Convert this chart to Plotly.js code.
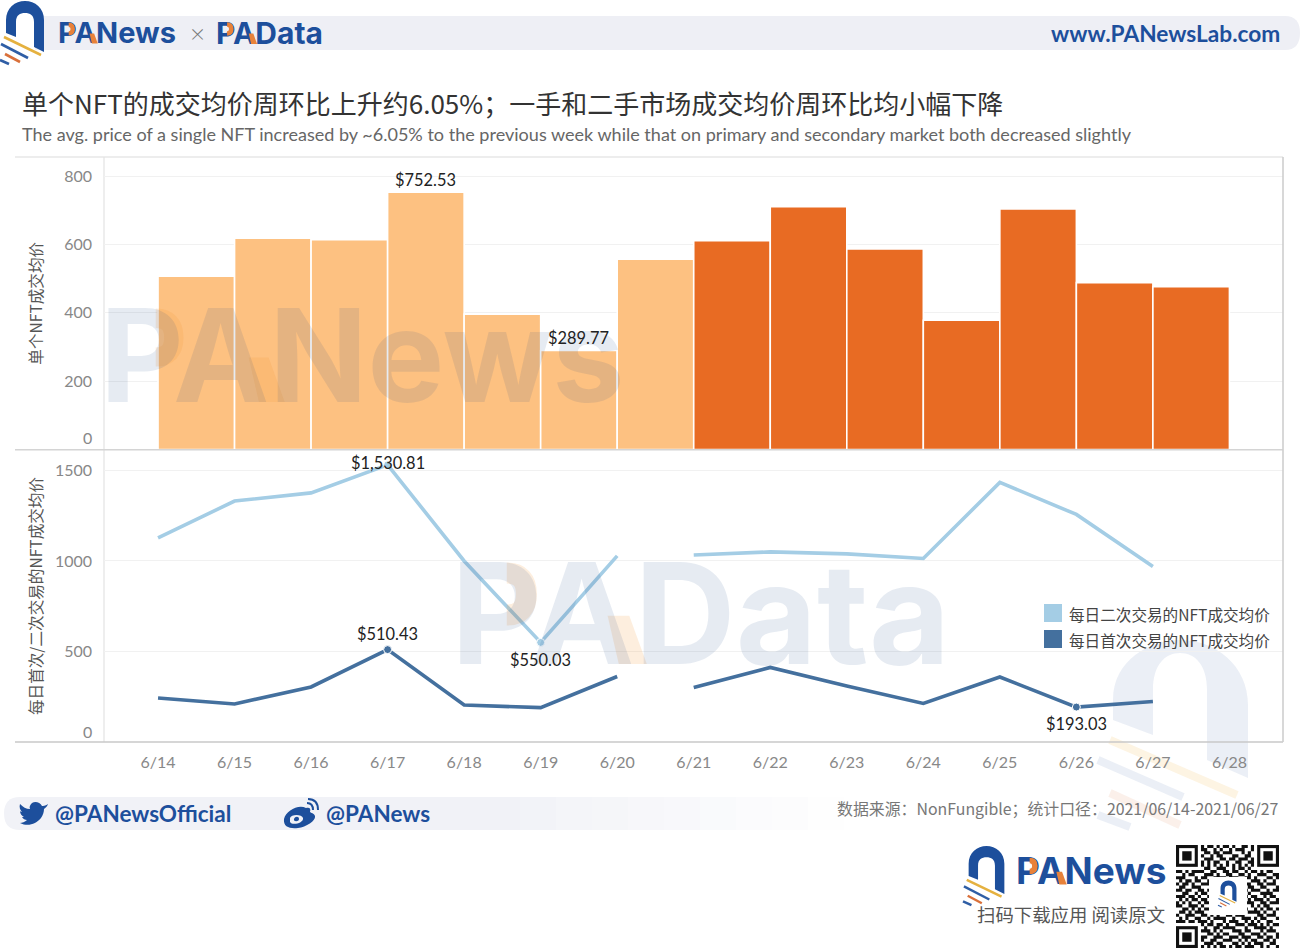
<!DOCTYPE html>
<html>
<head>
<meta charset="utf-8">
<script src="https://cdn.plot.ly/plotly-3.0.1.min.js"></script>
<style>html,body{margin:0;padding:0;background:#fff}#chart{width:1300px;height:952px}</style>
</head>
<body>
<div id="chart"></div>
<script>
// ---------- data ----------
const dates = ["6/14","6/15","6/16","6/17","6/18","6/19","6/20","6/21","6/22","6/23","6/24","6/25","6/26","6/27","6/28"];
const avgPrice = [507,618,614,752.53,396,289.77,557,611,710,587,378,704,488,476];
const secondary = [1127,1331,1376,1530.81,1000,550.03,1028,1033,1050,1039,1014,1434,1257,970];
const primary = [243,210,304,510.43,204,190,362,301,412,309,213,359,193.03,224];
const weekOneCount = 7;
const labelledAvg = [3,5];
const labelledSecondary = [3,5];
const labelledPrimary = [3,12];
const seriesNames = ["每日二次交易的NFT成交均价","每日首次交易的NFT成交均价"];
const qrRows = [
"000000001011010110100110100000000",
"000000001100101001011100100000000",
"000000000110110111000101000000000",
"000000001001011000110011000000000",
"000000000111001101101110100000000",
"000000001010110010011001100000000",
"000000001010101010101010100000000",
"000000000110011100101101000000000",
"110101111001100110110010110101100",
"001011000111010011001101001110011",
"111000101100111101110011010001101",
"010110110011000100101100111010010",
"101101001110101111000111001101110",
"011001110001110000110001100110001",
"110110011010000000001010111001011",
"001100101101000000001101000111100",
"111011010011000000000110110010110",
"010101101100000000001001011101001",
"101010010110000000000011100110111",
"110011101001000000001100101011000",
"001101010111110001110110010101101",
"011010111000101110001001111010010",
"100111001101010011011100001101110",
"010100110010111100100111010110001",
"111011011101000101110010101001100",
"000000001011011010011101110101011",
"000000000100110111100010011110100",
"000000001110101000111011000101110",
"000000000011010110001100111010001",
"000000001100111001110111001101101",
"000000001001100111001010110011010",
"000000000111011000110101011100110",
"000000001010101101011011100101001"];

// ---------- helpers ----------
const W = 1300, H = 952;
const BLUE = "#1d4f9c", LATIN = "Lato, 'Noto Sans CJK SC', sans-serif", CJK = "'Noto Sans CJK SC', Lato, sans-serif", BOLD = "Inter, 'Noto Sans CJK SC', sans-serif";
const px = v => v / W, py = v => 1 - v / H;
function pth(d) { let i = 0; return d.replace(/-?\d+(\.\d+)?/g, n => (i++ % 2 === 0) ? px(+n) : py(+n)); }
function fillShape(d, color, layer) { return {type:"path", xref:"paper", yref:"paper", path:pth(d), fillcolor:color, line:{width:0}, layer:layer||"above"}; }
function curveShape(d, color, w, layer) { return {type:"path", xref:"paper", yref:"paper", path:pth(d), fillcolor:"rgba(0,0,0,0)", line:{color,width:w}, layer:layer||"above"}; }
function strokeShape(x0,y0,x1,y1,color,w,layer) { return {type:"line", xref:"paper", yref:"paper", x0:px(x0), y0:py(y0), x1:px(x1), y1:py(y1), line:{color,width:w}, layer:layer||"above"}; }
function T(text,x,y,size,color,anchor,family,weight) {
  return {text, xref:"paper", yref:"paper", x:px(x), y:py(y), xanchor:anchor||"left", yanchor:"middle", showarrow:false, borderpad:0,
    font:{size, color, family:family||LATIN, weight:weight||400}};
}
function logo(ox, oy, s) {
  const X = v => ox + v * s, Y = v => oy + v * s;
  const d = `M${X(6)} ${Y(33)} L${X(6)} ${Y(20)} C${X(6)} ${Y(8)} ${X(15)} ${Y(1)} ${X(25)} ${Y(1)} C${X(35)} ${Y(1)} ${X(44)} ${Y(8)} ${X(44)} ${Y(20)} L${X(44)} ${Y(52)} L${X(34)} ${Y(47)} L${X(34)} ${Y(22)} C${X(34)} ${Y(15)} ${X(30)} ${Y(13)} ${X(25)} ${Y(13)} C${X(20)} ${Y(13)} ${X(16)} ${Y(15)} ${X(16)} ${Y(22)} L${X(16)} ${Y(37)} Z`;
  return [
    fillShape(d, BLUE),
    strokeShape(X(4),Y(37),X(41),Y(55),"#e5b13f",2.6*s),
    strokeShape(X(1),Y(44),X(28),Y(58),"#2f5ea5",2.6*s),
    strokeShape(X(5),Y(54),X(20),Y(62),"#d9703a",2.6*s),
    strokeShape(X(0),Y(60),X(9),Y(64),"#2f5ea5",2.6*s)
  ];
}
// orange accents on the P bowl and the A leg of a "PA…" word; em = font size, (x,yc) = left edge and cap centre
function paAccent(x, yc, em, color) {
  const X = v => x + v * em, Y = v => yc + v * em;
  return [
    curveShape(`M${X(.37)} ${Y(-.285)} Q${X(.51)} ${Y(-.285)} ${X(.51)} ${Y(-.135)} Q${X(.51)} ${Y(.015)} ${X(.37)} ${Y(.015)}`, color, .15*em),
    fillShape(`M${X(1.09)} ${Y(.02)} L${X(1.245)} ${Y(.02)} L${X(1.37)} ${Y(.364)} L${X(1.17)} ${Y(.364)} Z`, color)
  ];
}
function qrPath() {
  const x0 = 1176, y0 = 845, m = 103/33; let d = "";
  const rect = (c,r,w,h) => { const a=(x0+c*m).toFixed(2),b=(y0+r*m).toFixed(2),e=(x0+(c+w)*m).toFixed(2),f=(y0+(r+h)*m).toFixed(2); d += `M${a} ${b}L${e} ${b}L${e} ${f}L${a} ${f}Z`; };
  qrRows.forEach((row,r)=>{ let c=0; while(c<row.length){ if(row[c]==="1"){ let e=c; while(e<row.length&&row[e]==="1")e++; rect(c,r,e-c,1); c=e; } else c++; } });
  return d;
}
function finder(c,r) {
  const x0 = 1176, y0 = 845, m = 103/33;
  const box = (cc,rr,n,col)=>{const a=x0+cc*m,b=y0+rr*m,e=a+n*m,f=b+n*m; return fillShape(`M${a} ${b}L${e} ${b}L${e} ${f}L${a} ${f}Z`,col);};
  return [box(c,r,7,"#111"),box(c+1,r+1,5,"#fff"),box(c+2,r+2,3,"#111")];
}

// ---------- traces ----------
const barColors = avgPrice.map((_, i) => i < weekOneCount ? "#fdc181" : "#e86b23");
const mk = (idx, n) => Array.from({length:n}, (_, i) => idx.includes(i) ? 8 : 0);
function lineTrace(name, xs, ys, color, sizes) {
  return {type:"scatter", mode:"lines+markers", name, x:xs, y:ys, xaxis:"x", yaxis:"y2", showlegend:false, hoverinfo:"skip",
    line:{color, width:3.6}, marker:{color, size:sizes, opacity:1}};
}
function brandText(text, x, y, size) {
  return {type:"scatter", mode:"text", x:[x], y:[y], text:[text], textposition:"middle right", xaxis:"x3", yaxis:"y3", showlegend:false, hoverinfo:"skip",
    textfont:{size, color:BLUE, family:BOLD, weight:700}};
}
const wk = weekOneCount, xA = dates.slice(0,wk), xB = dates.slice(wk,14);
const traces = [
  {type:"bar", x:dates.slice(0,14), y:avgPrice, offset:0, width:1, xaxis:"x", yaxis:"y", hoverinfo:"skip", showlegend:false,
   marker:{color:barColors, line:{color:"#ffffff", width:1.6}}},
  lineTrace(seriesNames[0], xA, secondary.slice(0,wk), "#a4cde5", mk(labelledSecondary,14).slice(0,wk)),
  lineTrace(seriesNames[0], xB, secondary.slice(wk), "#a4cde5", mk(labelledSecondary,14).slice(wk)),
  lineTrace(seriesNames[1], xA, primary.slice(0,wk), "#44709e", mk(labelledPrimary,14).slice(0,wk)),
  lineTrace(seriesNames[1], xB, primary.slice(wk), "#44709e", mk(labelledPrimary,14).slice(wk)),
  brandText("PANews",58,36,29),
  brandText("PAData",216,36,30),
  brandText("PANews",1016,875,37)
];

// ---------- decoration ----------
const shapes = [];
shapes.push(fillShape("M35 16 L1285 16 Q1300 16 1300 33 Q1300 50 1285 50 L35 50 Z", "#eeeff5", "below"));
shapes.push(fillShape("M20 797 L520 797 L520 830 L20 830 Q4 830 4 813.5 Q4 797 20 797 Z", "#f1f2f7", "below"));
[0.9,0.8,0.7,0.6,0.5,0.4,0.3,0.2,0.1].forEach((o,i)=>{
  const a=520+i*36,b=a+36;
  shapes.push(fillShape(`M${a} 797 L${b} 797 L${b} 830 L${a} 830 Z`,`rgba(241,242,247,${o})`,"below"));
});
// big faint logo, lower right
shapes.push(fillShape("M1113 720 L1113 700 C1113 660 1150 640 1180 640 C1215 640 1248 665 1248 705 L1248 778 L1207 760 L1207 690 C1207 665 1195 653 1180 653 C1165 653 1153 665 1153 690 L1153 735 Z","rgba(29,79,156,0.09)","below"));
shapes.push(strokeShape(1110,740,1237,795,"rgba(240,180,60,0.14)",8,"below"));
shapes.push(strokeShape(1098,760,1183,797,"rgba(29,79,156,0.09)",8,"below"));
shapes.push(strokeShape(1110,793,1180,825,"rgba(220,110,50,0.10)",8,"below"));
shapes.push(strokeShape(1098,815,1130,827,"rgba(29,79,156,0.09)",8,"below"));
// panel frame
shapes.push(strokeShape(15,157,1283,157,"#dcdcdc",1.2,"below"));
shapes.push(strokeShape(15,449.7,1283,449.7,"#d4d4d4",1.4,"above"));
shapes.push(strokeShape(15,742,1283,742,"#c8c8c8",1.6,"above"));
shapes.push(strokeShape(104,157,104,742,"#e3e3e3",1.2,"below"));
shapes.push(strokeShape(1283,157,1283,742,"#cfcfcf",1.6,"above"));
// logos
logo(0,0,1).forEach(s=>shapes.push(s));
logo(963,845,0.94).forEach(s=>shapes.push(s));
// social icons
shapes.push(fillShape("M48 804 C45 806 43 806 42 806 C40 802 35 801 32 803 C30 805 29 807 30 809 C26 809 23 807 20 804 C19 807 20 810 22 812 C21 812 20 811 20 811 C20 814 22 816 24 817 L22 817 C23 819 25 820 27 820 C25 822 22 823 20 823 C28 827 36 824 41 818 C43 815 44 812 44 809 C45 808 47 807 48 804 Z", BLUE));
shapes.push(fillShape("M306 808 C298 804 286 811 284 819 C283 827 290 829 298 828 C306 827 316 821 315 816 C314 813 311 813 310 812 C311 809 310 807 306 808 Z", BLUE));
shapes.push(fillShape("M290 818 C291 814 302 814 303 818 C304 823 292 826 290 822 Z", "#f1f2f7"));
shapes.push(fillShape("M294 819 C295 816 299 816 299 819 C299 822 293 822 294 819 Z", BLUE));
shapes.push(curveShape("M307 803 Q313 803 313 810",BLUE,2));
shapes.push(curveShape("M308 799 Q318 799 318 810",BLUE,2));
// QR
shapes.push(fillShape(qrPath(),"#111"));
finder(0,0).concat(finder(26,0),finder(0,26)).forEach(s=>shapes.push(s));
shapes.push(fillShape("M1209 877 L1247 877 L1247 915 L1209 915 Z","#ffffff"));
logo(1218,880,0.42).forEach(s=>shapes.push(s));
// PA accents
const washOrange = "rgba(245,150,50,0.16)";
paAccent(108,355,129,washOrange).forEach(s=>shapes.push(s));
paAccent(455,613,140,washOrange).forEach(s=>shapes.push(s));
paAccent(58,33,29,"#e8823a").forEach(s=>shapes.push(s));
paAccent(216,33,30,"#e8823a").forEach(s=>shapes.push(s));
paAccent(1016,871,37,"#e8823a").forEach(s=>shapes.push(s));

// ---------- text ----------
const washBlue = "rgba(30,70,140,0.11)";
const annotations = [
  T("PANews",362,355,129,washBlue,"center",BOLD,700),
  T("PAData",700,613,140,washBlue,"center",BOLD,700),
  T("×",197,33,26,"#777","center",LATIN,300),
  T("www.PANewsLab.com",1281,34,22.7,BLUE,"right",LATIN,700),
  T("单个NFT的成交均价周环比上升约6.05%；一手和二手市场成交均价周环比均小幅下降",21,102.5,26,"#333","left",CJK),
  T("The avg. price of a single NFT increased by ~6.05% to the previous week while that on primary and secondary market both decreased slightly",21,134,18.05,"#666","left",LATIN),
  T("@PANewsOfficial",54,813.5,22.5,BLUE,"left",LATIN,700),
  T("@PANews",325,813.5,22.5,BLUE,"left",LATIN,700),
  T("数据来源：NonFungible；统计口径：2021/06/14-2021/06/27",1280,808.5,15.9,"#777","right",CJK),
  T("扫码下载应用 阅读原文",1166,913.5,18.4,"#555","right",CJK),
  T(seriesNames[0],1068,613.5,15.6,"#444","left",CJK),
  T(seriesNames[1],1068,639.5,15.6,"#444","left",CJK),
  T("0",93,438,16,"#888","right",LATIN),
  T("0",93,731,16,"#888","right",LATIN)
];
shapes.push(fillShape("M1044 604 L1062 604 L1062 622 L1044 622 Z","#a4cde5"));
shapes.push(fillShape("M1044 630 L1062 630 L1062 648 L1044 648 Z","#44709e"));

const money = v => "$" + v.toLocaleString("en-US",{minimumFractionDigits:2,maximumFractionDigits:2});
function dataLabel(x,y,yaxis,shift,v) {
  return {text:money(v), xref:"x", yref:yaxis, x:x, y:y, yshift:shift, showarrow:false, xanchor:"center", yanchor:"middle",
    font:{size:16.4,color:"#222",family:LATIN}};
}
labelledAvg.forEach(i=>annotations.push(dataLabel(i+0.5,avgPrice[i],"y",13,avgPrice[i])));
annotations.push(dataLabel(3,secondary[3],"y2",2,secondary[3]));
annotations.push(dataLabel(5,secondary[5],"y2",-17,secondary[5]));
annotations.push(dataLabel(3,primary[3],"y2",16,primary[3]));
annotations.push(dataLabel(12,primary[12],"y2",-16,primary[12]));

const layout = {
  width:W, height:H, autosize:false, margin:{l:0,r:0,t:0,b:0,pad:0},
  paper_bgcolor:"#fff", plot_bgcolor:"rgba(0,0,0,0)", showlegend:false, bargap:0,
  xaxis:{type:"category", categoryorder:"array", categoryarray:dates, range:[-0.706,14.70], domain:[px(104),px(1283)], anchor:"y2",
    tickmode:"array", tickvals:dates, ticktext:dates, showgrid:false, zeroline:false, showline:false, ticks:"", ticklabelstandoff:9,
    tickfont:{size:16,color:"#888",family:LATIN}},
  yaxis:{domain:[py(449.5),py(157)], range:[0,855.6], tickvals:[200,400,600,800], showgrid:true, gridcolor:"#f1f1f1", gridwidth:1, zeroline:false, ticks:"", ticklabelstandoff:11,
    tickfont:{size:16,color:"#888",family:LATIN},
    title:{text:"单个NFT成交均价", font:{size:15.6,color:"#555",family:CJK}, standoff:17}},
  yaxis2:{domain:[py(742),py(450)], range:[0,1613], tickvals:[500,1000,1500], showgrid:true, gridcolor:"#f1f1f1", gridwidth:1, zeroline:false, ticks:"", ticklabelstandoff:11,
    tickfont:{size:16,color:"#888",family:LATIN},
    title:{text:"每日首次/二次交易的NFT成交均价", font:{size:15.6,color:"#555",family:CJK}, standoff:8}},
  xaxis3:{domain:[0,1], range:[0,W], visible:false, anchor:"y3", fixedrange:true},
  yaxis3:{domain:[0,1], range:[H,0], visible:false, anchor:"x3", fixedrange:true},
  shapes, annotations
};
Plotly.newPlot("chart", traces, layout, {displayModeBar:false, staticPlot:true});
</script>
</body>
</html>
